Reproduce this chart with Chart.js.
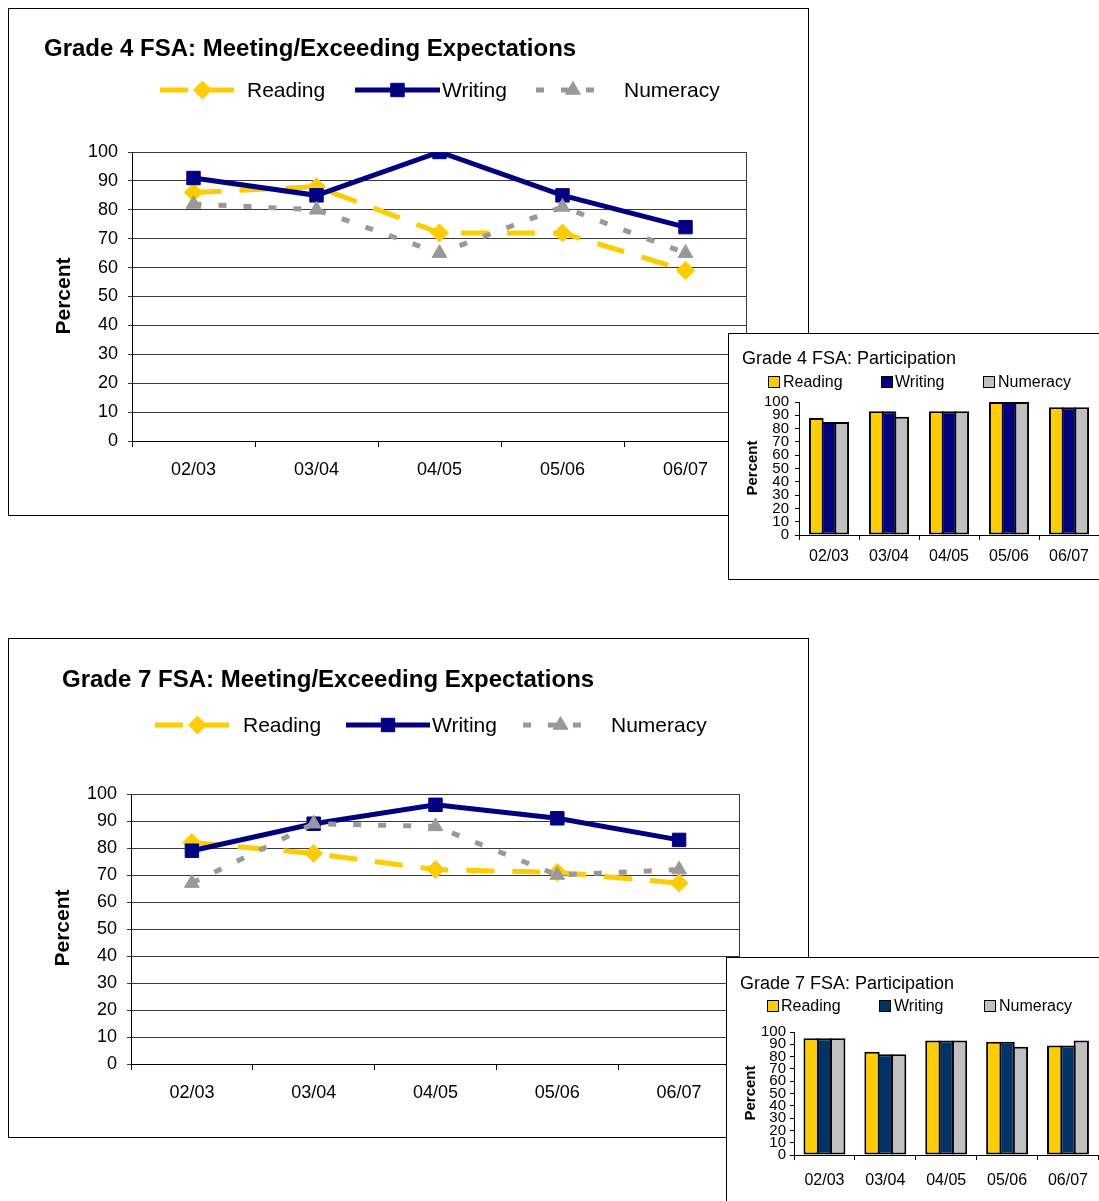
<!DOCTYPE html>
<html>
<head>
<meta charset="utf-8">
<title>FSA charts</title>
<script src="https://cdn.jsdelivr.net/npm/chart.js@4.4.0/dist/chart.umd.min.js"></script>
<style>
    html, body { margin: 0; padding: 0; background: #fff; overflow: hidden; width: 1099px; height: 1201px; }
    .box { position: absolute; border: 1px solid #000; background: #fff; box-sizing: border-box; overflow: hidden; }
    .box canvas { position: absolute; left: 0; top: 0; }
</style>
</head>
<body>
<div class="box" style="left:8px;top:8px;width:801px;height:508px;"><canvas id="g4_line_cnv" width="799" height="506"></canvas></div>
<div class="box" style="left:8px;top:638px;width:801px;height:500px;"><canvas id="g7_line_cnv" width="799" height="498"></canvas></div>
<div class="box" style="left:728px;top:333px;width:380px;height:247px;"><canvas id="g4_bar_cnv" width="370" height="245"></canvas></div>
<div class="box" style="left:726px;top:957px;width:380px;height:260px;"><canvas id="g7_bar_cnv" width="372" height="243"></canvas></div>

<script>
// values
const years = ["02/03", "03/04", "04/05", "05/06", "06/07"];
const series_names = ["Reading", "Writing", "Numeracy"];
const percent_min = 0;
const percent_max = 100;
const percent_step = 10;

const g4_reading = [86, 88, 72, 72, 59];
const g4_writing = [91, 85, 100, 85, 74];
const g4_numeracy = [82, 80, 65, 81, 65];

const g7_reading = [82, 78, 72, 71, 67];
const g7_writing = [79, 89, 96, 91, 83];
const g7_numeracy = [67, 89, 88, 70, 72];

const g4_part_reading = [88, 93, 93, 100, 96];
const g4_part_writing = [85, 93, 93, 100, 96];
const g4_part_numeracy = [85, 89, 93, 100, 96];

const g7_part_reading = [95, 84, 93, 92, 89];
const g7_part_writing = [95, 82, 93, 92, 89];
const g7_part_numeracy = [95, 82, 93, 88, 93];

const yellow = "#FFCC00";
const navy = "#000080";
const dark_blue = "#003366";
const grey_line = "#999999";
const grey_bar = "#C0C0C0";

Chart.defaults.font.family = "'Liberation Sans', Arial, sans-serif";
Chart.defaults.color = "#000";

/**
 * Draws title, rotated axis title, legend and plot frame the way the old spreadsheet did.
 */
const decor_plugin = {
    id: "decor",
    beforeDatasetsDraw(chart, args, opts) {
        if (!opts.frame) {
            return;
        }
        const ctx = chart.ctx;
        const area = chart.chartArea;
        ctx.save();
        ctx.strokeStyle = opts.frame;
        ctx.lineWidth = 1;
        ctx.beginPath();
        ctx.moveTo(Math.round(area.right) - 0.5, area.top);
        ctx.lineTo(Math.round(area.right) - 0.5, area.bottom);
        ctx.stroke();
        ctx.restore();
    },
    afterDraw(chart, args, opts) {
        const ctx = chart.ctx;
        ctx.save();
        ctx.fillStyle = "#000";
        ctx.textBaseline = "middle";
        ctx.textAlign = "left";
        ctx.font = opts.title_font;
        ctx.fillText(opts.title, opts.title_x, opts.title_y);

        ctx.save();
        ctx.translate(opts.axis_x, opts.axis_y);
        ctx.rotate(-Math.PI / 2);
        ctx.textAlign = "center";
        ctx.font = opts.axis_font;
        ctx.fillText(opts.axis_title, 0, 0);
        ctx.restore();

        const y = opts.legend_y;
        chart.data.datasets.forEach(function (ds, i) {
            const item = opts.legend[i];
            ctx.save();
            if (chart.config.type === "line") {
                ctx.strokeStyle = ds.borderColor;
                ctx.lineWidth = ds.borderWidth;
                ctx.setLineDash(ds.borderDash || []);
                ctx.lineDashOffset = item.dash_offset || 0;
                ctx.beginPath();
                ctx.moveTo(item.x0, y);
                ctx.lineTo(item.x1, y);
                ctx.stroke();
                ctx.setLineDash([]);
                ctx.fillStyle = ds.backgroundColor;
                ctx.lineWidth = ds.pointBorderWidth;
                Chart.helpers.drawPoint(ctx, {
                    pointStyle: ds.pointStyle,
                    radius: ds.pointRadius,
                    borderWidth: ds.pointBorderWidth,
                    rotation: 0
                }, (item.x0 + item.x1) / 2, y);
            } else {
                ctx.fillStyle = ds.backgroundColor;
                ctx.fillRect(item.x0, y - 6, 12, 12);
                ctx.strokeStyle = "#000";
                ctx.lineWidth = 1;
                ctx.strokeRect(item.x0 + 0.5, y - 5.5, 11, 11);
            }
            ctx.restore();
            ctx.fillStyle = "#000";
            ctx.textAlign = "left";
            ctx.font = opts.legend_font;
            ctx.fillText(ds.label, item.text_x, y + 1);
        });
        ctx.restore();
    }
};

function make_line_chart(canvas_id, reading, writing, numeracy, look) {
    return new Chart(document.getElementById(canvas_id), {
        type: "line",
        data: {
            labels: years,
            datasets: [
                {
                    label: series_names[0], data: reading,
                    borderColor: yellow, backgroundColor: yellow, borderWidth: 5, borderDash: [28, 18],
                    pointStyle: "rectRot", pointRadius: 9, pointBorderWidth: 1, order: 3
                },
                {
                    label: series_names[1], data: writing,
                    borderColor: navy, backgroundColor: navy, borderWidth: 5,
                    pointStyle: "rect", pointRadius: 9.5, pointBorderWidth: 1, order: 2
                },
                {
                    label: series_names[2], data: numeracy,
                    borderColor: grey_line, backgroundColor: grey_line, borderWidth: 5, borderDash: [8, 17],
                    pointStyle: "triangle", pointRadius: 8.5, pointBorderWidth: 1, order: 1
                }
            ]
        },
        options: {
            responsive: false,
            animation: false,
            layout: {padding: look.padding},
            plugins: {
                legend: {display: false},
                tooltip: {enabled: false},
                decor: look.decor
            },
            scales: {
                x: {
                    offset: true,
                    grid: {offset: true, drawOnChartArea: false, drawTicks: true, tickLength: 6, color: "#000"},
                    border: {color: "#000", width: 1},
                    ticks: {font: {size: 18}, color: "#000", padding: 12, autoSkip: false, maxRotation: 0},
                    afterFit: function (scale) { scale.height = 40; }
                },
                y: {
                    min: percent_min,
                    max: percent_max,
                    grid: {color: "#3a3a3a", tickLength: 4},
                    border: {color: "#000", width: 1},
                    ticks: {stepSize: percent_step, autoSkip: false, font: {size: 18}, color: "#000", padding: 10},
                    afterFit: function (scale) { scale.width = look.y_width; }
                }
            }
        },
        plugins: [decor_plugin]
    });
}

function make_bar_chart(canvas_id, reading, writing, numeracy, writing_colour, look) {
    const bar_style = {borderColor: "#000", borderWidth: 2, borderSkipped: false};
    return new Chart(document.getElementById(canvas_id), {
        type: "bar",
        data: {
            labels: years,
            datasets: [
                Object.assign({label: series_names[0], data: reading, backgroundColor: yellow}, bar_style),
                Object.assign({label: series_names[1], data: writing, backgroundColor: writing_colour}, bar_style),
                Object.assign({label: series_names[2], data: numeracy, backgroundColor: grey_bar}, bar_style)
            ]
        },
        options: {
            responsive: false,
            animation: false,
            layout: {padding: look.padding},
            datasets: {bar: {categoryPercentage: look.cat, barPercentage: look.bar}},
            plugins: {
                legend: {display: false},
                tooltip: {enabled: false},
                decor: look.decor
            },
            scales: {
                x: {
                    grid: {offset: true, drawOnChartArea: false, drawTicks: true, tickLength: 5, color: "#000"},
                    border: {color: "#000", width: 1},
                    ticks: {font: {size: 16}, color: "#000", padding: look.x_pad, autoSkip: false, maxRotation: 0},
                    afterFit: function (scale) { scale.height = 30; }
                },
                y: {
                    min: percent_min,
                    max: percent_max,
                    grid: {drawOnChartArea: false, drawTicks: true, tickLength: 4, color: "#000"},
                    border: {color: "#000", width: 1},
                    ticks: {stepSize: percent_step, autoSkip: false, font: {size: 15}, color: "#000", padding: look.y_pad},
                    afterFit: function (scale) { scale.width = look.y_width; }
                }
            }
        },
        plugins: [decor_plugin]
    });
}

make_line_chart("g4_line_cnv", g4_reading, g4_writing, g4_numeracy, {
    padding: {top: 143, right: 61, bottom: 34, left: 0},
    y_width: 123,
    decor: {
        title: "Grade 4 FSA: Meeting/Exceeding Expectations", title_font: "bold 24px 'Liberation Sans', Arial", title_x: 35, title_y: 40,
        axis_title: "Percent", axis_font: "bold 21px 'Liberation Sans', Arial", axis_x: 55, axis_y: 287,
        legend_font: "21px 'Liberation Sans', Arial", legend_y: 81,
        legend: [{x0: 151, x1: 236, text_x: 238}, {x0: 346, x1: 431, text_x: 433}, {x0: 527, x1: 601, text_x: 615}],
        frame: "#3a3a3a"
    }
});

make_line_chart("g7_line_cnv", g7_reading, g7_writing, g7_numeracy, {
    padding: {top: 155, right: 68, bottom: 33, left: 0},
    y_width: 122,
    decor: {
        title: "Grade 7 FSA: Meeting/Exceeding Expectations", title_font: "bold 24px 'Liberation Sans', Arial", title_x: 53, title_y: 41,
        axis_title: "Percent", axis_font: "bold 21px 'Liberation Sans', Arial", axis_x: 54, axis_y: 289,
        legend_font: "21px 'Liberation Sans', Arial", legend_y: 86,
        legend: [{x0: 146, x1: 231, text_x: 234}, {x0: 337, x1: 421, text_x: 423}, {x0: 514, x1: 589, text_x: 602}],
        frame: "#3a3a3a"
    }
});

make_bar_chart("g4_bar_cnv", g4_part_reading, g4_part_writing, g4_part_numeracy, navy, {
    padding: {top: 68, right: 0, bottom: 14, left: 0},
    y_width: 70, y_pad: 6, x_pad: 7, cat: 0.635, bar: 1.157,
    decor: {
        title: "Grade 4 FSA: Participation", title_font: "18px 'Liberation Sans', Arial", title_x: 13, title_y: 25,
        axis_title: "Percent", axis_font: "bold 15px 'Liberation Sans', Arial", axis_x: 24, axis_y: 134,
        legend_font: "16px 'Liberation Sans', Arial", legend_y: 48,
        legend: [{x0: 39, text_x: 54}, {x0: 152, text_x: 166}, {x0: 254, text_x: 269}]
    }
});

make_bar_chart("g7_bar_cnv", g7_part_reading, g7_part_writing, g7_part_numeracy, dark_blue, {
    padding: {top: 74, right: 0, bottom: 16, left: 0},
    y_width: 67, y_pad: 4, x_pad: 11, cat: 0.656, bar: 1.15,
    decor: {
        title: "Grade 7 FSA: Participation", title_font: "18px 'Liberation Sans', Arial", title_x: 13, title_y: 26,
        axis_title: "Percent", axis_font: "bold 15px 'Liberation Sans', Arial", axis_x: 24, axis_y: 135,
        legend_font: "16px 'Liberation Sans', Arial", legend_y: 48,
        legend: [{x0: 40, text_x: 54}, {x0: 152, text_x: 167}, {x0: 257, text_x: 272}]
    }
});
</script>
</body>
</html>
